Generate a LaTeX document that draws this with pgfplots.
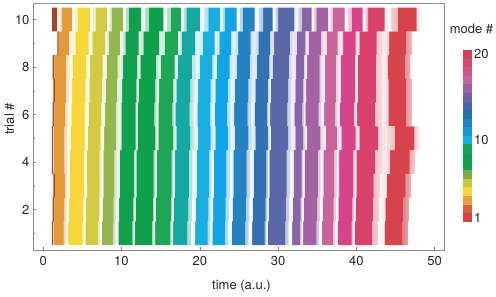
\documentclass[border=0pt]{standalone}
\usepackage{pgfplots}
\usepackage{pgfplotstable}
\pgfplotsset{compat=1.18}
\usepackage{fontspec}
\setmainfont{TeX Gyre Heros}
% band colours (as seen in the rows)
\definecolor{c1}{HTML}{A8402A}
\definecolor{c2}{HTML}{E39A3A}
\definecolor{c3}{HTML}{F6D63A}
\definecolor{c4}{HTML}{D2CA42}
\definecolor{c5}{HTML}{93B64E}
\definecolor{c6}{HTML}{10A04E}
\definecolor{c7}{HTML}{0FA04C}
\definecolor{c8}{HTML}{1CA656}
\definecolor{c9}{HTML}{14A8A0}
\definecolor{c10}{HTML}{1AAEE0}
\definecolor{c11}{HTML}{12A4E4}
\definecolor{c12}{HTML}{2282C2}
\definecolor{c13}{HTML}{3272B2}
\definecolor{c14}{HTML}{5A68A8}
\definecolor{c15}{HTML}{8866A6}
\definecolor{c16}{HTML}{A462A2}
\definecolor{c17}{HTML}{C8649A}
\definecolor{c18}{HTML}{D84488}
\definecolor{c19}{HTML}{D8426A}
\definecolor{c20}{HTML}{D6434C}
% colour bar
\definecolor{cb1}{HTML}{D8404A}
\definecolor{cb2}{HTML}{D9603C}
\definecolor{cb3}{HTML}{E8A040}
\definecolor{cb4}{HTML}{F8D838}
\definecolor{cb5}{HTML}{C8C840}
\definecolor{cb6}{HTML}{78B050}
\definecolor{cb7}{HTML}{10A050}
\definecolor{cb8}{HTML}{10A050}
\definecolor{cb9}{HTML}{12A458}
\definecolor{cb10}{HTML}{10B0E0}
\definecolor{cb11}{HTML}{1898D8}
\definecolor{cb12}{HTML}{2080C8}
\definecolor{cb13}{HTML}{2A6EB4}
\definecolor{cb14}{HTML}{4A66AC}
\definecolor{cb15}{HTML}{7062A8}
\definecolor{cb16}{HTML}{9A62A2}
\definecolor{cb17}{HTML}{C0669A}
\definecolor{cb18}{HTML}{D6508E}
\definecolor{cb19}{HTML}{D84476}
\definecolor{cb20}{HTML}{D84050}

\pgfplotstableread{
trial s1 e1 s2 e2 s3 e3 s4 e4 s5 e5 s6 e6 s7 e7 s8 e8 s9 e9 s10 e10 s11 e11 s12 e12 s13 e13 s14 e14 s15 e15 s16 e16 s17 e17 s18 e18 s19 e19 s20 e20
1  1.10 1.28 1.30 2.6 3.2 5.0 5.4 7.0 7.5 8.9 9.6 11.4 11.7 13.9 14.3 16.2 16.6 18.4 19.4 21.0 21.6 23.2 24.1 25.8 26.7 28.3 28.7 30.9 31.8 32.8 33.2 34.9 35.6 37.0 37.6 39.4 39.8 42.0 43.6 45.9
2  1.20 1.38 1.40 2.7 3.3 5.1 5.5 7.1 7.6 9.0 9.7 11.5 11.8 14.0 14.4 16.3 16.7 18.5 19.5 21.1 21.7 23.3 24.2 25.9 26.8 28.4 28.8 31.0 31.9 32.9 33.3 35.0 35.7 37.1 37.7 39.5 39.9 42.1 43.7 46.0
3  1.30 1.48 1.50 2.8 3.4 5.2 5.6 7.2 7.7 9.1 9.8 11.6 11.9 14.1 14.5 16.4 16.8 18.6 19.6 21.2 21.8 23.4 24.3 26.0 26.9 28.5 28.9 31.1 32.0 33.0 33.4 35.1 35.8 37.2 37.8 39.6 40.0 42.2 43.9 46.3
4  1.10 1.28 1.30 2.7 3.4 5.2 5.6 7.2 7.7 9.1 9.8 11.6 11.9 14.1 14.5 16.4 16.8 18.6 19.6 21.2 21.8 23.4 24.3 26.0 26.9 28.5 28.9 31.1 32.0 33.0 33.4 35.1 35.8 37.2 37.8 39.6 40.0 42.4 44.3 46.8
5  1.10 1.28 1.30 2.7 3.5 5.3 5.7 7.3 7.8 9.3 10.0 11.8 12.1 14.3 14.7 16.6 17.0 18.8 19.8 21.4 22.0 23.6 24.5 26.2 27.1 28.7 29.1 31.3 32.2 33.2 33.7 35.4 36.1 37.5 38.1 39.9 40.4 42.8 44.9 47.4
6  1.20 1.38 1.40 2.8 3.6 5.3 5.8 7.4 7.9 9.3 10.0 11.8 12.1 14.2 14.7 16.5 16.9 18.7 19.7 21.3 21.9 23.5 24.4 26.1 27.0 28.6 29.0 31.2 32.1 33.1 33.5 35.2 35.9 37.3 37.9 39.7 40.1 42.4 44.1 46.4
7  1.30 1.48 1.50 2.9 3.7 5.4 5.9 7.5 8.0 9.4 10.1 11.9 12.2 14.3 14.8 16.6 17.0 18.8 19.8 21.4 22.0 23.6 24.5 26.2 27.1 28.7 29.1 31.3 32.2 33.2 33.6 35.3 36.0 37.4 38.0 39.8 40.2 42.5 44.1 46.4
8  1.20 1.38 1.40 2.9 3.8 5.5 6.0 7.6 8.1 9.5 10.2 12.0 12.4 14.4 15.0 16.8 17.2 19.0 20.0 21.6 22.2 23.8 24.7 26.4 27.3 28.9 29.3 31.4 32.3 33.3 33.7 35.3 36.0 37.4 38.0 39.8 40.2 42.5 44.0 46.2
9  1.80 1.98 2.00 3.3 4.1 5.8 6.3 7.9 8.4 9.8 10.5 12.2 12.8 14.8 15.5 17.2 17.7 19.4 20.4 21.9 22.5 24.0 24.9 26.5 27.5 29.0 29.5 31.5 32.4 33.5 33.9 35.5 36.2 37.6 38.3 39.9 40.4 42.6 44.2 46.4
10 1.15 1.75 2.40 3.65 4.45 6.0 6.7 8.15 8.75 10.2 10.95 12.5 13.5 15.35 16.3 17.6 18.3 20.0 21.1 22.6 23.2 24.7 25.5 27.0 28.1 29.3 30.0 32.1 33.0 34.3 34.9 36.4 37.0 38.5 39.4 40.8 41.5 43.6 45.3 47.7
}\bands

\begin{document}
\begin{tikzpicture}
\useasboundingbox (-33pt,-47pt) rectangle (463pt,250pt);
\begin{axis}[
  at={(0,0)}, anchor=south west, scale only axis,
  width=411pt, height=247pt,
  xmin=-1.3, xmax=51.2, ymin=0.3, ymax=10.7,
  xbar stacked, bar width=1,
  xtick={0,10,...,50}, ytick={2,4,6,8,10}, minor ytick={1,3,5,7,9},
  tick align=inside, xtick pos=left, ytick pos=left,
  major tick length=3pt, minor tick length=2.5pt,
  axis line style={draw=black!45},
  every tick/.style={black!50},
  /pgf/number format/assume math mode=true,
  ticklabel style={font=\fontsize{13}{15}\selectfont, text=black!85},
  xticklabel style={yshift=-3pt},
  xlabel={time (a.u.)}, ylabel={trial \#},
  label style={font=\fontsize{13}{15}\selectfont, text=black!85},
  xlabel style={at={(axis description cs:0.5,0)}, anchor=base, xshift=3pt, yshift=-40pt},
  ylabel style={at={(axis description cs:-0.058,0.53)}, anchor=center},
]
\addplot[draw=none, fill=none] table[y=trial, x=s1] {\bands};
\addplot[draw=none, fill=c1] table[y=trial, x expr={\thisrow{e1}-\thisrow{s1}}] {\bands};
\pgfplotsforeachungrouped \k in {2,...,20}{%
  \pgfmathtruncatemacro\p{\k-1}%
  \edef\tmp{%
    \noexpand\addplot[draw=none, left color=c\p!40!white, right color=white] table[y=trial, x expr={(\noexpand\thisrow{s\k}-\noexpand\thisrow{e\p})/2}] {\noexpand\bands};
    \noexpand\addplot[draw=none, left color=white, right color=c\k!40!white] table[y=trial, x expr={(\noexpand\thisrow{s\k}-\noexpand\thisrow{e\p})/2}] {\noexpand\bands};
    \noexpand\addplot[draw=none, fill=c\k] table[y=trial, x expr={\noexpand\thisrow{e\k}-\noexpand\thisrow{s\k}}] {\noexpand\bands};
  }\tmp
}
\addplot[draw=none, left color=c20!70!white, right color=white] table[y=trial, x expr=0.7] {\bands};
\end{axis}
\begin{axis}[
  at={(430pt,28.3pt)}, anchor=south west, scale only axis,
  width=9pt, height=171.7pt,
  xmin=0, xmax=1, ymin=0, ymax=20,
  ybar stacked, bar width=9pt,
  axis line style={draw=none},
  xtick=\empty, ytick={0.5,9.5,19.5}, yticklabels={1,10,20},
  yticklabel pos=right, major tick length=0pt,
  ticklabel style={font=\fontsize{13}{15}\selectfont, text=black!85},
  yticklabel style={xshift=-1.5pt},
  title={mode \#},
  title style={font=\fontsize{13}{15}\selectfont, text=black!85, at={(0.5,1)}, anchor=base, xshift=4pt, yshift=11pt},
]
\pgfplotsinvokeforeach{1,...,20}{%
  \addplot[draw=none, fill=cb#1] coordinates {(0.5,1)};
}
\end{axis}
\end{tikzpicture}
\end{document}
